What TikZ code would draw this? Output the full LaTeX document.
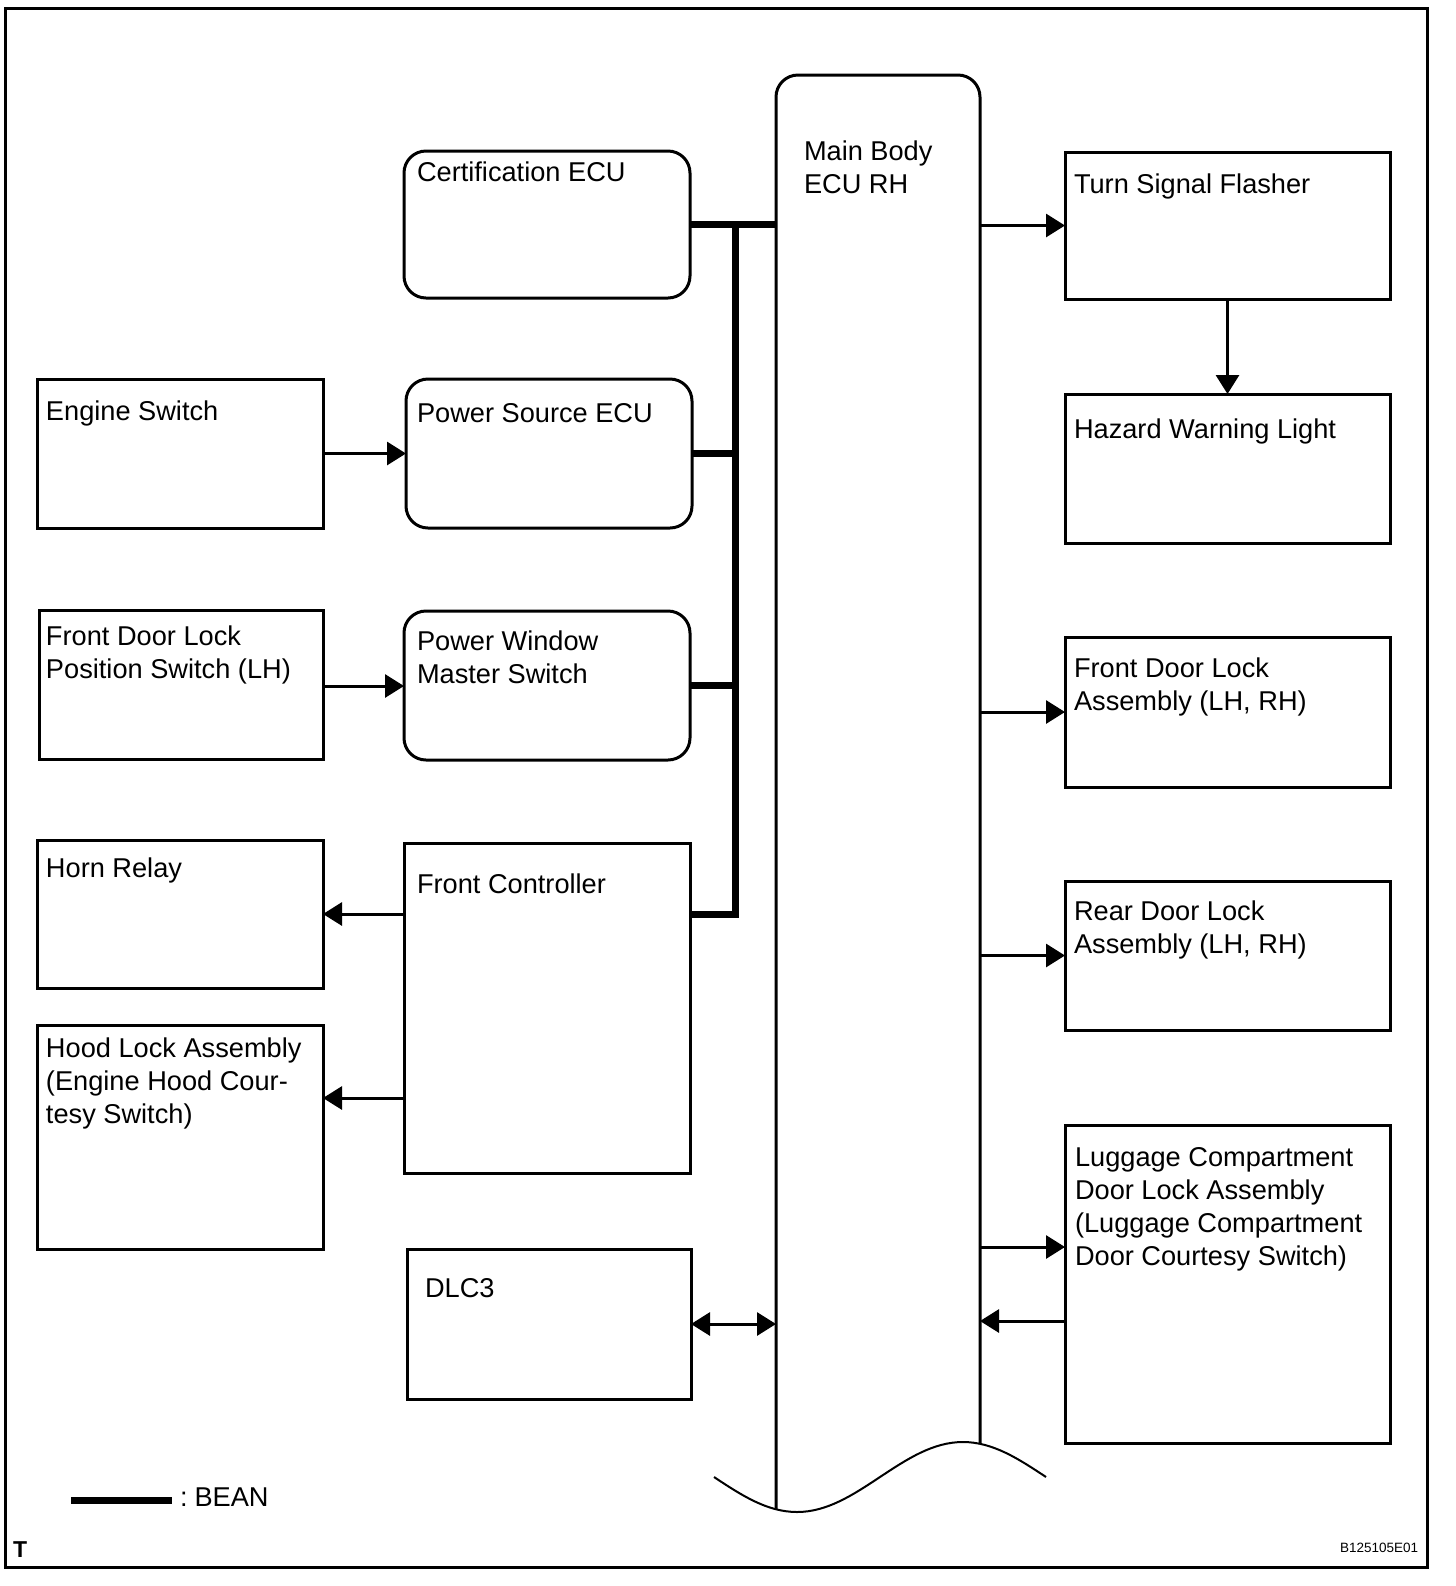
\documentclass[tikz,border=0pt]{standalone}
\usepackage{fontspec}
\setmainfont{Liberation Sans}
\usetikzlibrary{arrows.meta}
\newcommand\mkbox[6]{\node[#6, minimum width={(#4-#2)*0.5pt}, minimum height={(#5-#3)*0.5pt}] (#1) at ({(#2+#4)/2},{(#3+#5)/2}) {};}
\newcommand\ml[1]{\vtop{\baselineskip=16.5pt #1}}
\tikzset{
  ln/.style={line width=1.5pt},
  sbox/.style={draw, line width=1.5pt, inner sep=0pt, outer sep=0pt},
  rbox/.style={sbox, rounded corners=11pt},
  lbl/.style={inner sep=0pt, outer sep=0pt, anchor=base west, font=\fontsize{13.6pt}{16.5pt}\selectfont},
  arr/.style={line width=1.5pt, -{Triangle[length=9.5pt,width=11.5pt]}},
  darr/.style={line width=1.5pt, {Triangle[length=9.5pt,width=11.5pt]}-{Triangle[length=9.5pt,width=11.5pt]}},
  bus/.style={line width=3.5pt},
}
\begin{document}
\begin{tikzpicture}[x=0.5pt,y=-0.5pt]
\useasboundingbox (0,0) rectangle (1456,1586);
% frame
\draw[ln] (5,8) rectangle (1427,1567);
% left column
\mkbox{es}{37}{379}{323}{528}{sbox}
\mkbox{fdlps}{39}{610}{323}{759}{sbox}
\mkbox{horn}{37}{840}{323}{988}{sbox}
\mkbox{hood}{37}{1025}{323}{1249}{sbox}
% middle column
\mkbox{cert}{404}{151}{690}{298}{rbox}
\mkbox{ps}{406}{379}{692}{528}{rbox}
\mkbox{pw}{404}{611}{690}{760}{rbox}
\mkbox{fc}{404}{843}{690}{1173}{sbox}
\mkbox{dlc}{407}{1249}{691}{1399}{sbox}
% right column
\mkbox{tsf}{1065}{152}{1390}{299}{sbox}
\mkbox{hwl}{1065}{394}{1390}{543}{sbox}
\mkbox{fdla}{1065}{637}{1390}{787}{sbox}
\mkbox{rdla}{1065}{881}{1390}{1030}{sbox}
\mkbox{lug}{1065}{1125}{1390}{1443}{sbox}
% main body ECU
\node[inner sep=0pt, outer sep=0pt, minimum width=102pt, minimum height=717pt] (main) at (878,792) {};
\draw[ln, rounded corners=11pt] (main.south west) -- (main.north west) -- (main.north east) -- (main.east |- 0,1444);
\draw[line width=1pt] (714,1477) sin (797,1512) cos (880,1477) sin (963,1442) cos (1046,1477);
% labels
\node[lbl] (es-l) at (46,420) {Engine Switch};
\node[lbl] (fdlps-l) at (46,645) {\ml{\hbox{Front Door Lock}\hbox{Position Switch (LH)}}};
\node[lbl] (horn-l) at (46,877) {Horn Relay};
\node[lbl] (hood-l) at (46,1057) {\ml{\hbox{Hood Lock Assembly}\hbox{(Engine Hood Cour-}\hbox{tesy Switch)}}};
\node[lbl] (cert-l) at (417,181) {Certification ECU};
\node[lbl] (ps-l) at (417,422) {Power Source ECU};
\node[lbl] (pw-l) at (417,650) {\ml{\hbox{Power Window}\hbox{Master Switch}}};
\node[lbl] (fc-l) at (417,893) {Front Controller};
\node[lbl] (dlc-l) at (425,1297) {DLC3};
\node[lbl] (main-l) at (804,160) {\ml{\hbox{Main Body}\hbox{ECU RH}}};
\node[lbl] (tsf-l) at (1074,193) {Turn Signal Flasher};
\node[lbl] (hwl-l) at (1074,438) {Hazard Warning Light};
\node[lbl] (fdla-l) at (1074,677) {\ml{\hbox{Front Door Lock}\hbox{Assembly (LH, RH)}}};
\node[lbl] (rdla-l) at (1074,920) {\ml{\hbox{Rear Door Lock}\hbox{Assembly (LH, RH)}}};
\node[lbl] (lug-l) at (1075,1166) {\ml{\hbox{Luggage Compartment}\hbox{Door Lock Assembly}\hbox{(Luggage Compartment}\hbox{Door Courtesy Switch)}}};
% BEAN bus
\coordinate (bx) at (735,0);
\draw[bus] (cert.east) -- (main.west |- cert.east);
\draw[bus, line join=miter] (bx |- cert.east) -- (bx |- horn.east) -- (fc.east |- horn.east);
\draw[bus] (ps.east) -- (bx |- ps.east);
\draw[bus] (pw.east) -- (bx |- pw.east);
% arrows
\draw[arr] (es.east) -- (ps.west |- es.east);
\draw[arr] (fdlps.east |- 0,686) -- (pw.west |- 0,686);
\draw[arr] (fc.west |- horn.east) -- (horn.east);
\draw[arr] (fc.west |- 0,1098) -- (hood.east |- 0,1098);
\draw[darr] (dlc.east) -- (main.west |- dlc.east);
\draw[arr] (main.east |- tsf.west) -- (tsf.west);
\draw[arr] (tsf.south) -- (hwl.north);
\draw[arr] (main.east |- fdla.west) -- (fdla.west);
\draw[arr] (main.east |- rdla.west) -- (rdla.west);
\draw[arr] (main.east |- 0,1247) -- (lug.west |- 0,1247);
\draw[arr] (lug.west |- 0,1321) -- (main.east |- 0,1321);
% legend
\coordinate (lg1) at (71,1500);
\coordinate (lg2) at (172,1500);
\draw[bus] (lg1) -- (lg2);
\node[lbl] (lg-t) at (180,1506) {:\kern3.5pt BEAN};
\node[lbl, font=\fontsize{11.5pt}{14pt}\selectfont\bfseries] (t-l) at (13,1557) {T};
\node[lbl, font=\fontsize{6.75pt}{8pt}\selectfont] (code-l) at (1340,1552) {B125105E01};
\end{tikzpicture}
\end{document}
